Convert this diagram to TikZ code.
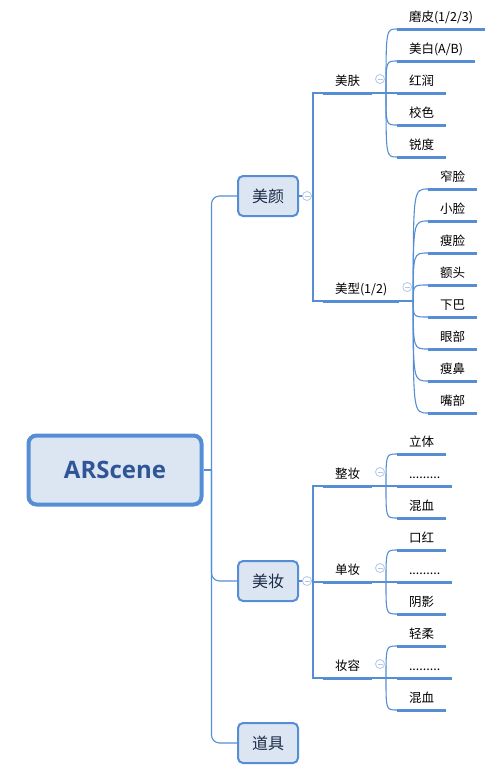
\documentclass[tikz,border=0pt]{standalone}
\usepackage{fontspec}
\setmainfont{Noto Sans CJK SC}
\newfontfamily\rootfont{Open Sans}
\definecolor{mapblue}{HTML}{558ED5}
\definecolor{mapfill}{HTML}{DCE6F2}
\definecolor{roottext}{HTML}{2F5597}
\definecolor{topictext}{HTML}{1B2A47}
\definecolor{foldgray}{HTML}{B4C7E7}
\tikzset{
  rootbox/.style={draw=mapblue, line width=4pt, fill=mapfill, rounded corners=8pt,
    minimum width=173pt, minimum height=69pt, text=roottext,
    font=\rootfont\bfseries\fontsize{24}{28}\selectfont},
  topicbox/.style={draw=mapblue, line width=2pt, fill=mapfill, rounded corners=5pt,
    minimum width=60pt, minimum height=40pt, text=topictext,
    font=\fontsize{16}{18}\selectfont},
  subtopic/.style={anchor=south west, inner xsep=12pt, inner ysep=8pt, text depth=0pt,
    outer sep=0pt, font=\fontsize{12.5}{14}\selectfont},
  uline/.style={draw=mapblue, line width=3pt},
  conn/.style={draw=mapblue, line width=1.1pt},
  fold/.style={circle, draw=foldgray, fill=white, line width=0.8pt, minimum size=9pt,
    inner sep=0pt, path picture={\draw[foldgray, line width=0.8pt]
      ([xshift=-2.5pt]path picture bounding box.center) --
      ([xshift=2.5pt]path picture bounding box.center);}}
}
\begin{document}
\begin{tikzpicture}[x=1pt, y=-1pt]
  %%%%% START %%%%%
  \useasboundingbox (0, 0) rectangle (503, 777);

  \node[rootbox] (root) at (115, 470) {ARScene};

  \node[topicbox] (my) at (268, 196) {美颜};
  \node[topicbox] (mz) at (268, 581) {美妆};
  \node[topicbox] (dj) at (268, 743) {道具};

  % 美颜
  \node[subtopic] (ms) at (323, 93) {美肤};
  \node[subtopic] (mx) at (323, 301) {美型(1/2)};

  \node[subtopic] (ms1) at (397, 29) {磨皮(1/2/3)};
  \node[subtopic] (ms2) at (397, 61) {美白(A/B)};
  \node[subtopic] (ms3) at (397, 93) {红润};
  \node[subtopic] (ms4) at (397, 125) {校色};
  \node[subtopic] (ms5) at (397, 157) {锐度};

  \node[subtopic] (mx1) at (428, 189) {窄脸};
  \node[subtopic] (mx2) at (428, 221) {小脸};
  \node[subtopic] (mx3) at (428, 253) {瘦脸};
  \node[subtopic] (mx4) at (428, 285) {额头};
  \node[subtopic] (mx5) at (428, 317) {下巴};
  \node[subtopic] (mx6) at (428, 349) {眼部};
  \node[subtopic] (mx7) at (428, 381) {瘦鼻};
  \node[subtopic] (mx8) at (428, 413) {嘴部};

  % 美妆
  \node[subtopic] (zz) at (323, 486) {整妆};
  \node[subtopic] (dz) at (323, 582) {单妆};
  \node[subtopic] (zr) at (323, 678) {妆容};

  \node[subtopic] (zz1) at (397, 454) {立体};
  \node[subtopic] (zz2) at (397, 486) {.........};
  \node[subtopic] (zz3) at (397, 518) {混血};
  \node[subtopic] (dz1) at (397, 550) {口红};
  \node[subtopic] (dz2) at (397, 582) {.........};
  \node[subtopic] (dz3) at (397, 614) {阴影};
  \node[subtopic] (zr1) at (397, 646) {轻柔};
  \node[subtopic] (zr2) at (397, 678) {.........};
  \node[subtopic] (zr3) at (397, 710) {混血};

  \foreach \n in {ms, mx, ms1, ms2, ms3, ms4, ms5, mx1, mx2, mx3, mx4, mx5, mx6, mx7, mx8,
                  zz, dz, zr, zz1, zz2, zz3, dz1, dz2, dz3, zr1, zr2, zr3}
    \draw[uline] (\n.south west) -- (\n.south east);

  % root to topics
  \draw[conn] (root.east) -- ++(8, 0) coordinate (rj);
  \draw[conn, rounded corners=8pt] (rj) |- (my.west);
  \draw[conn, rounded corners=8pt] (rj) |- (mz.west);
  \draw[conn, rounded corners=8pt] (rj) |- (dj.west);

  % topics to subtopics
  \draw[conn] (my.east) -- ++(14, 0) coordinate (myj);
  \draw[conn] (myj) |- (ms.south west);
  \draw[conn] (myj) |- (mx.south west);
  \draw[conn] (mz.east) -- ++(14, 0) coordinate (mzj);
  \draw[conn] (mzj) |- (zz.south west);
  \draw[conn] (mzj) |- (dz.south west);
  \draw[conn] (mzj) |- (zr.south west);

  % subtopics to leaves
  \draw[conn] (ms.south east) -- ++(14, 0) coordinate (msj);
  \foreach \n in {ms1, ms2, ms3, ms4, ms5}
    \draw[conn] (msj) .. controls (msj |- \n.south) .. (\n.south west);
  \draw[conn] (mx.south east) -- ++(14, 0) coordinate (mxj);
  \foreach \n in {mx1, mx2, mx3, mx4, mx5, mx6, mx7, mx8}
    \draw[conn] (mxj) .. controls (mxj |- \n.south) .. (\n.south west);
  \draw[conn] (zz.south east) -- ++(14, 0) coordinate (zzj);
  \foreach \n in {zz1, zz2, zz3}
    \draw[conn] (zzj) .. controls (zzj |- \n.south) .. (\n.south west);
  \draw[conn] (dz.south east) -- ++(14, 0) coordinate (dzj);
  \foreach \n in {dz1, dz2, dz3}
    \draw[conn] (dzj) .. controls (dzj |- \n.south) .. (\n.south west);
  \draw[conn] (zr.south east) -- ++(14, 0) coordinate (zrj);
  \foreach \n in {zr1, zr2, zr3}
    \draw[conn] (zrj) .. controls (zrj |- \n.south) .. (\n.south west);

  % fold markers
  \node[fold] (myf) at ([xshift=8pt]my.east) {};
  \node[fold] (mzf) at ([xshift=8pt]mz.east) {};
  \node[fold] (msf) at ([xshift=8pt, yshift=14pt]ms.south east) {};
  \node[fold] (mxf) at ([xshift=8pt, yshift=14pt]mx.south east) {};
  \node[fold] (zzf) at ([xshift=8pt, yshift=14pt]zz.south east) {};
  \node[fold] (dzf) at ([xshift=8pt, yshift=14pt]dz.south east) {};
  \node[fold] (zrf) at ([xshift=8pt, yshift=14pt]zr.south east) {};
  %%%%% END %%%%%
\end{tikzpicture}
\end{document}
